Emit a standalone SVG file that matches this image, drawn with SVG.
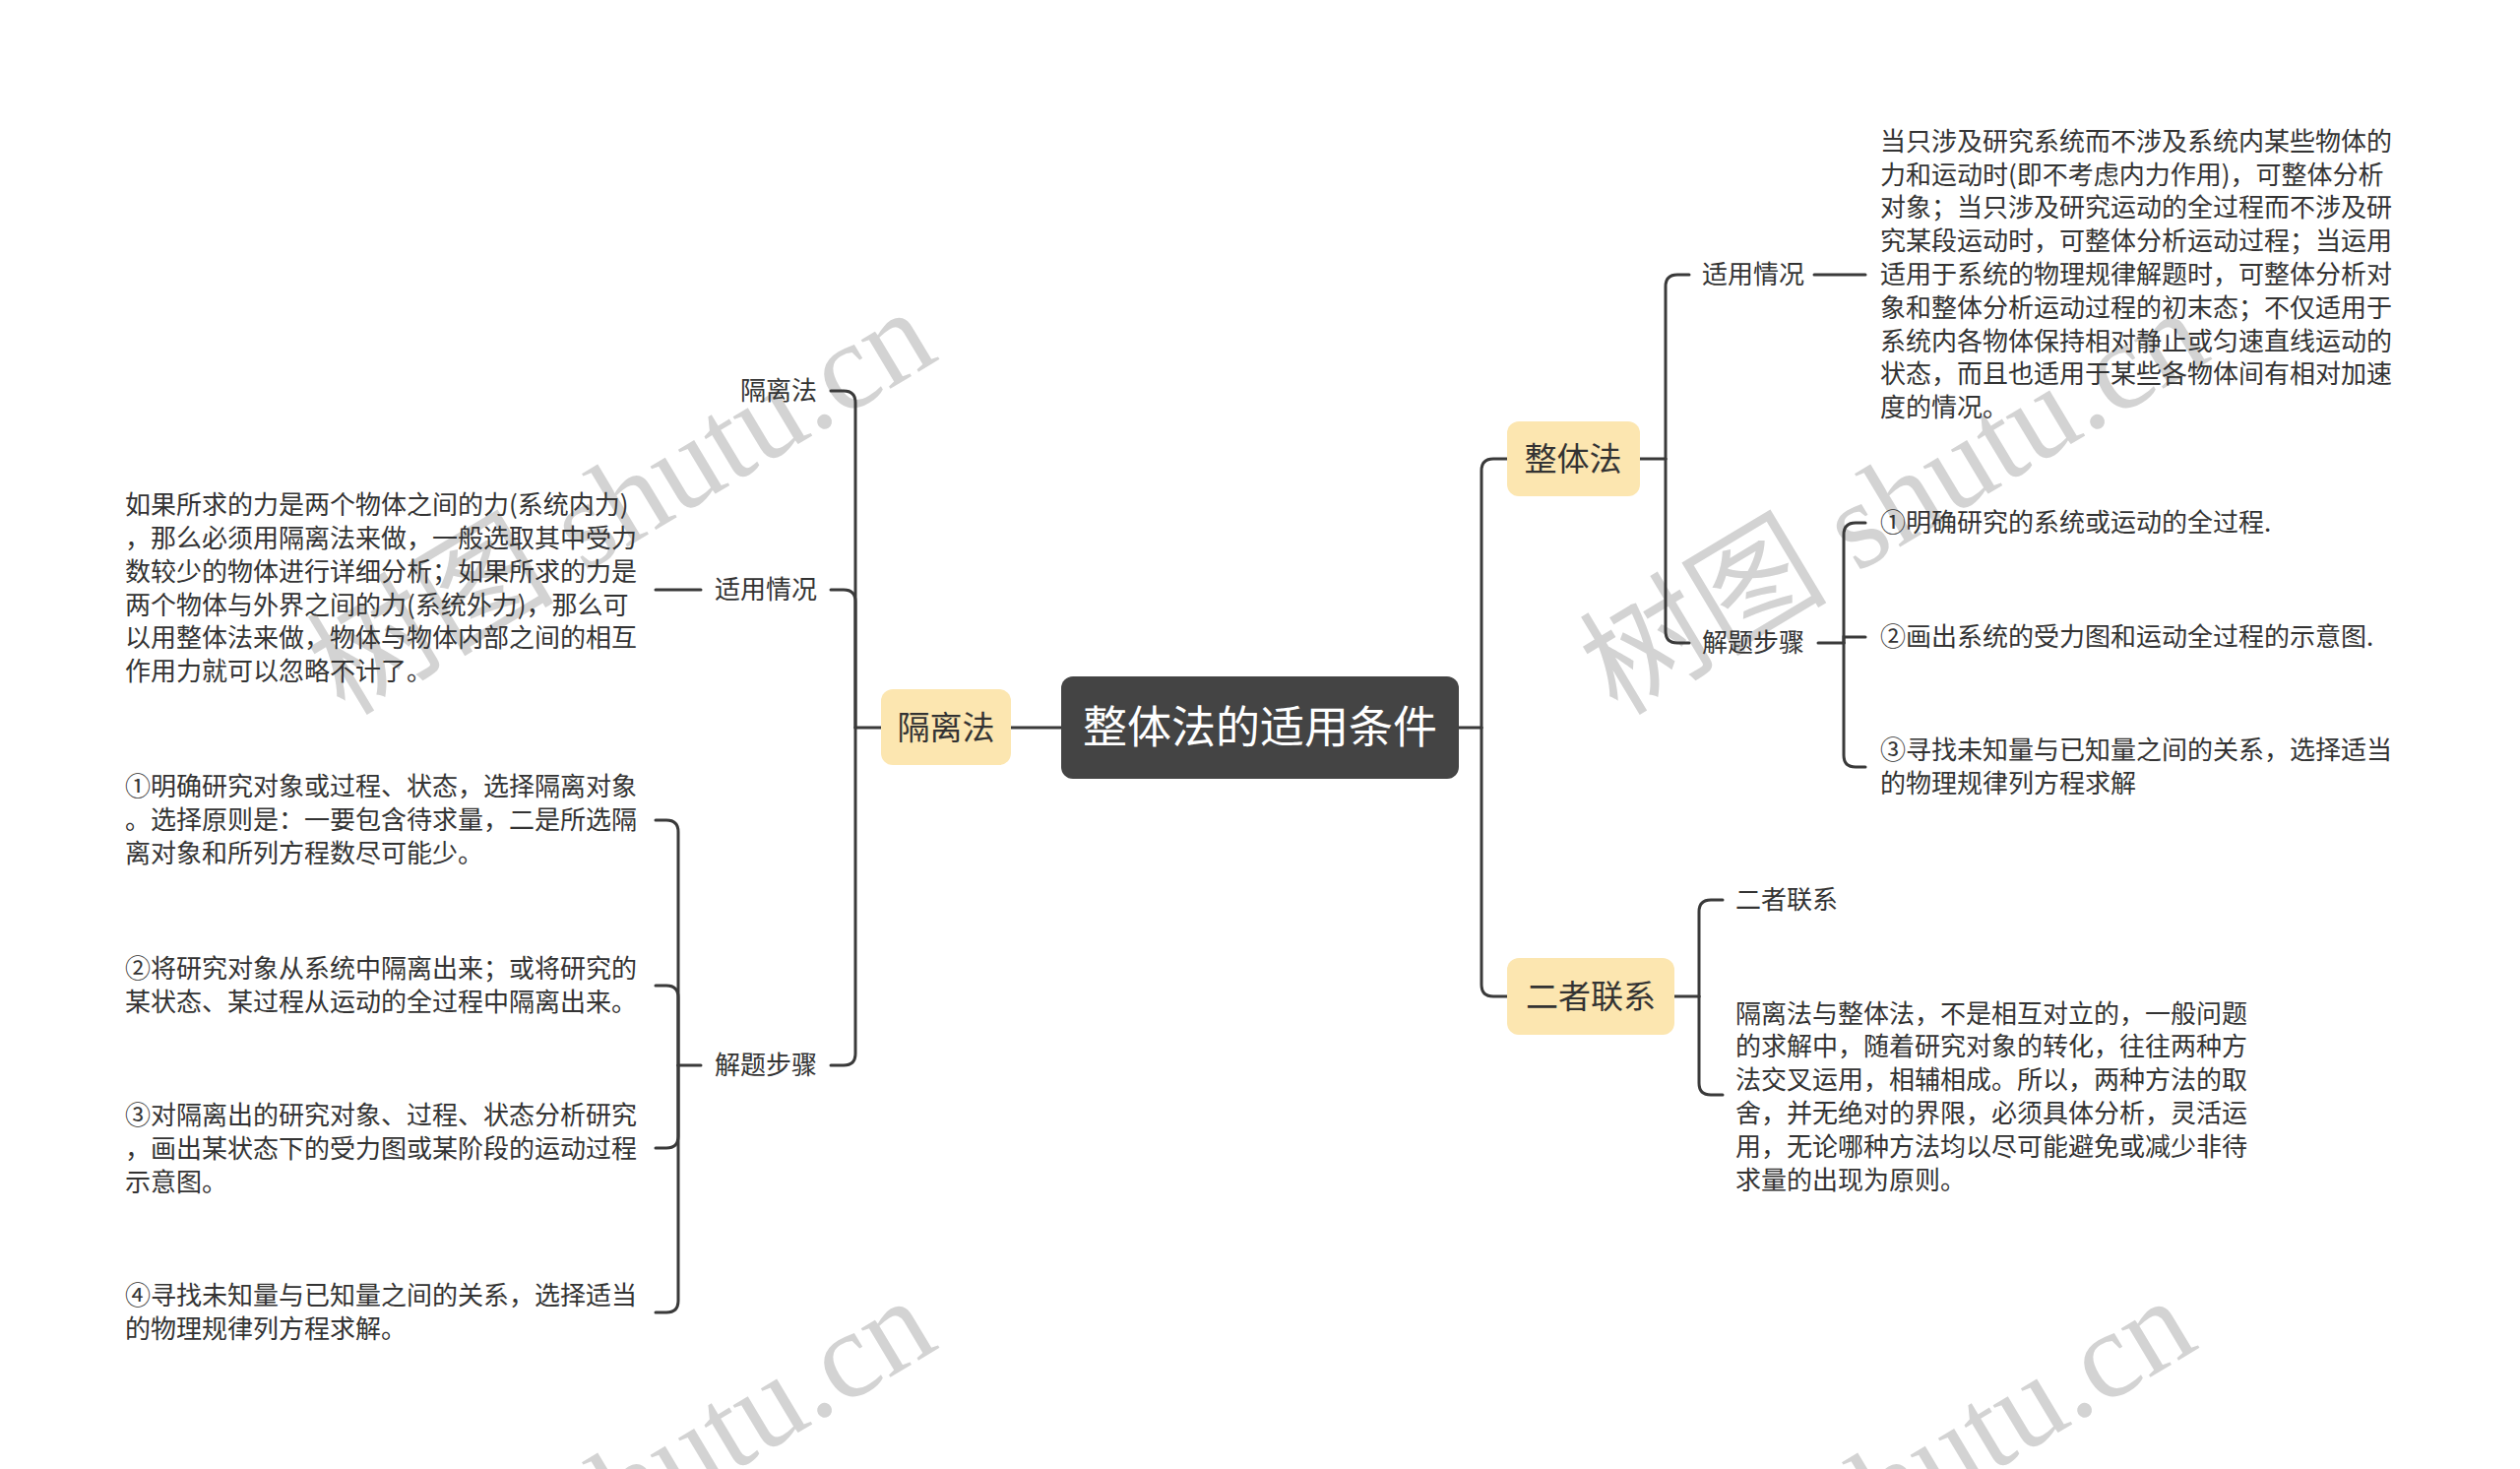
<svg xmlns="http://www.w3.org/2000/svg" width="2560" height="1492" viewBox="0 0 2560 1492">
<style>
.wm{font-family:"Liberation Serif","Noto Sans CJK SC",serif;font-size:126px;fill:#d3d3d3}
.t{font-family:"Noto Sans CJK SC","Noto Sans",sans-serif;font-size:26px;fill:#333}
.main{font-family:"Noto Sans CJK SC","Noto Sans",sans-serif;font-size:33px;fill:#333;text-anchor:middle}
.root{font-family:"Noto Sans CJK SC","Noto Sans",sans-serif;font-size:45px;fill:#fff;text-anchor:middle}
.end{text-anchor:end}
.mn{fill:#fce6b0}
.c path{fill:none;stroke:#3a3a3a;stroke-width:3;stroke-linecap:round}
</style>
<rect width="2560" height="1492" fill="#fff"/>
<g id="watermarks">
<text class="wm" transform="translate(350,728) rotate(-31)">树图 shutu.cn</text>
<text class="wm" transform="translate(1643,728) rotate(-31)">树图 shutu.cn</text>
<text class="wm" transform="translate(350,1732) rotate(-31)">树图 shutu.cn</text>
<text class="wm" transform="translate(1630,1732) rotate(-31)">树图 shutu.cn</text>
</g>
<g id="connectors" class="c">
<path d="M1481,739 H1505"/>
<path d="M1505,739 V478 Q1505,466 1517,466 H1531"/>
<path d="M1505,739 V1000 Q1505,1012 1517,1012 H1531"/>
<path d="M1078,739 H1027"/>
<path d="M895,739 H869"/>
<path d="M869,739 V409 Q869,397 857,397 H844"/>
<path d="M869,739 V611 Q869,599 857,599 H844"/>
<path d="M869,739 V1070 Q869,1082 857,1082 H844"/>
<path d="M712,599 H666"/>
<path d="M712,1082 H689"/>
<path d="M689,1082 V845 Q689,833 677,833 H666"/>
<path d="M689,1082 V1013 Q689,1001 677,1001 H666"/>
<path d="M689,1082 V1154 Q689,1166 677,1166 H666"/>
<path d="M689,1082 V1321 Q689,1333 677,1333 H666"/>
<path d="M1666,466 H1692"/>
<path d="M1692,466 V291 Q1692,279 1704,279 H1716"/>
<path d="M1692,466 V641 Q1692,653 1704,653 H1716"/>
<path d="M1843,279 H1895"/>
<path d="M1847,653 H1873"/>
<path d="M1873,653 V543 Q1873,531 1885,531 H1895"/>
<path d="M1873,653 V647 H1895"/>
<path d="M1873,653 V767 Q1873,779 1885,779 H1895"/>
<path d="M1701,1012 H1726"/>
<path d="M1726,1012 V926 Q1726,914 1738,914 H1750"/>
<path d="M1726,1012 V1100 Q1726,1112 1738,1112 H1750"/>
</g>
<g id="root">
<rect x="1078" y="687" width="404" height="104" rx="12" fill="#444"/>
<text class="root" x="1280" y="755">整体法的适用条件</text>
</g>
<g id="node-gelifa">
<rect class="mn" x="895" y="700" width="132" height="77" rx="12"/>
<text class="main" x="961" y="751">隔离法</text>
</g>
<g id="node-zhengtifa">
<rect class="mn" x="1531" y="428" width="135" height="76" rx="12"/>
<text class="main" x="1598" y="478">整体法</text>
</g>
<g id="node-erzhe">
<rect class="mn" x="1531" y="973" width="170" height="78" rx="12"/>
<text class="main" x="1616" y="1024">二者联系</text>
</g>
<g id="l-gelifa-label"><text class="t end" x="830" y="406">隔离法</text></g>
<g id="l-shiyong-label"><text class="t end" x="830" y="608">适用情况</text></g>
<g id="l-jieti-label"><text class="t end" x="830" y="1091">解题步骤</text></g>
<g id="l-shiyong-text">
<text class="t" x="127" y="522">如果所求的力是两个物体之间的力(系统内力)</text>
<text class="t" x="127" y="556">，那么必须用隔离法来做，一般选取其中受力</text>
<text class="t" x="127" y="590">数较少的物体进行详细分析；如果所求的力是</text>
<text class="t" x="127" y="624">两个物体与外界之间的力(系统外力)，那么可</text>
<text class="t" x="127" y="657">以用整体法来做，物体与物体内部之间的相互</text>
<text class="t" x="127" y="691">作用力就可以忽略不计了。</text>
</g>
<g id="l-step1">
<text class="t" x="127" y="808">①明确研究对象或过程、状态，选择隔离对象</text>
<text class="t" x="127" y="842">。选择原则是：一要包含待求量，二是所选隔</text>
<text class="t" x="127" y="876">离对象和所列方程数尽可能少。</text>
</g>
<g id="l-step2">
<text class="t" x="127" y="993">②将研究对象从系统中隔离出来；或将研究的</text>
<text class="t" x="127" y="1027">某状态、某过程从运动的全过程中隔离出来。</text>
</g>
<g id="l-step3">
<text class="t" x="127" y="1142">③对隔离出的研究对象、过程、状态分析研究</text>
<text class="t" x="127" y="1176">，画出某状态下的受力图或某阶段的运动过程</text>
<text class="t" x="127" y="1210">示意图。</text>
</g>
<g id="l-step4">
<text class="t" x="127" y="1325">④寻找未知量与已知量之间的关系，选择适当</text>
<text class="t" x="127" y="1359">的物理规律列方程求解。</text>
</g>
<g id="r-shiyong-label"><text class="t" x="1729" y="288">适用情况</text></g>
<g id="r-jieti-label"><text class="t" x="1729" y="662">解题步骤</text></g>
<g id="r-shiyong-text">
<text class="t" x="1910" y="153">当只涉及研究系统而不涉及系统内某些物体的</text>
<text class="t" x="1910" y="187">力和运动时(即不考虑内力作用)，可整体分析</text>
<text class="t" x="1910" y="220">对象；当只涉及研究运动的全过程而不涉及研</text>
<text class="t" x="1910" y="254">究某段运动时，可整体分析运动过程；当运用</text>
<text class="t" x="1910" y="288">适用于系统的物理规律解题时，可整体分析对</text>
<text class="t" x="1910" y="322">象和整体分析运动过程的初末态；不仅适用于</text>
<text class="t" x="1910" y="356">系统内各物体保持相对静止或匀速直线运动的</text>
<text class="t" x="1910" y="389">状态，而且也适用于某些各物体间有相对加速</text>
<text class="t" x="1910" y="423">度的情况。</text>
</g>
<g id="r-step1"><text class="t" x="1910" y="540">①明确研究的系统或运动的全过程.</text></g>
<g id="r-step2"><text class="t" x="1910" y="656">②画出系统的受力图和运动全过程的示意图.</text></g>
<g id="r-step3">
<text class="t" x="1910" y="771">③寻找未知量与已知量之间的关系，选择适当</text>
<text class="t" x="1910" y="805">的物理规律列方程求解</text>
</g>
<g id="r-erzhe-label"><text class="t" x="1763" y="923">二者联系</text></g>
<g id="r-erzhe-text">
<text class="t" x="1763" y="1039">隔离法与整体法，不是相互对立的，一般问题</text>
<text class="t" x="1763" y="1072">的求解中，随着研究对象的转化，往往两种方</text>
<text class="t" x="1763" y="1106">法交叉运用，相辅相成。所以，两种方法的取</text>
<text class="t" x="1763" y="1140">舍，并无绝对的界限，必须具体分析，灵活运</text>
<text class="t" x="1763" y="1174">用，无论哪种方法均以尽可能避免或减少非待</text>
<text class="t" x="1763" y="1208">求量的出现为原则。</text>
</g>
</svg>
